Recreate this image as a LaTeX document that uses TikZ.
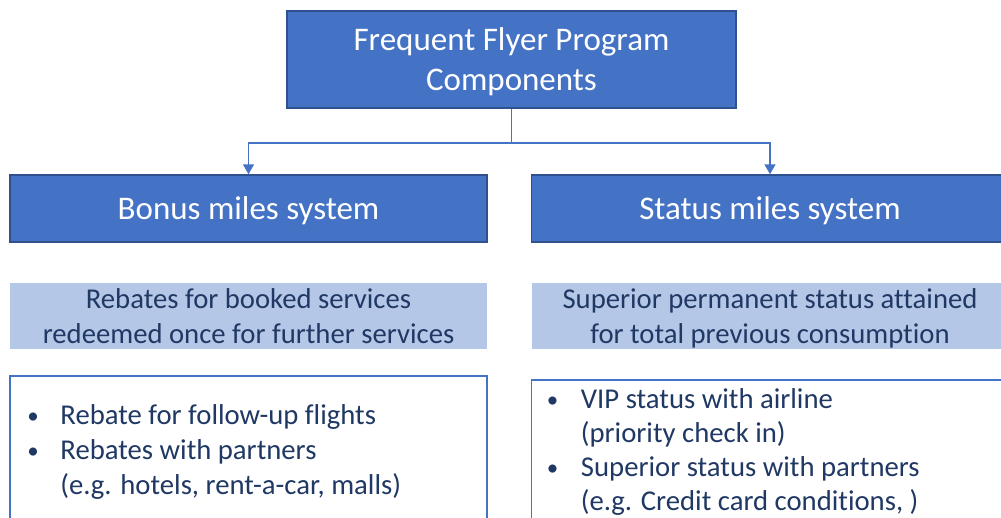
\documentclass[tikz,border=0pt]{standalone}
\usepackage{fontspec}
\setmainfont[Ligatures=NoCommon]{Carlito}
\usetikzlibrary{positioning,arrows.meta}

\definecolor{ffblue}{HTML}{4472C4}
\definecolor{ffedge}{HTML}{2F528F}
\definecolor{fflight}{HTML}{B4C7E7}
\definecolor{fftext}{HTML}{203864}

\tikzset{
  mainbox/.style={draw=ffedge, line width=1.5pt, fill=ffblue, text=white, align=center,
    minimum width=449pt, minimum height=97pt, text depth=0pt,
    font=\fontsize{33}{40}\selectfont},
  headbox/.style={mainbox, minimum width=477pt, minimum height=67pt},
  descbox/.style={fill=fflight, text=fftext, align=center, minimum width=477pt,
    minimum height=66pt, text depth=-3pt, font=\fontsize{28.7}{35}\selectfont},
  listbox/.style={draw=ffblue, line width=1.5pt, fill=white, minimum width=477pt,
    minimum height=200pt, anchor=north},
  itemtext/.style={text=fftext, align=left, anchor=north west, inner sep=0pt},
  link/.style={draw=ffblue, line width=1.5pt, -{Triangle[length=10pt,width=11pt]}}
}

% bullet column for the lists
\newcommand{\bul}[1]{\makebox[#1][l]{\raisebox{1pt}{\fontsize{23}{23}\selectfont\textbullet}}}

\begin{document}
\begin{tikzpicture}[x=1pt, y=-1pt]
\clip (0,0) rectangle (1001,517);

\node (ffp) [mainbox] at (511.5,59.5) {Frequent Flyer Program\\Components};
\node (bonus) [headbox] at (248.5,208.5) {Bonus miles system};
\node (status) [headbox] at (770,208.5) {Status miles system};

\draw[link] (ffp.south) -- ++(0,34) -| (bonus.north);
\draw[link] (ffp.south) -- ++(0,34) -| (status.north);

\node (bonusdesc) [descbox, below=40pt of bonus] {Rebates for booked services\\redeemed once for further services};
\node (statusdesc) [descbox, below=40pt of status] {Superior permanent status attained\\for total previous consumption};

\node (bonuslist) [listbox, below=26pt of bonusdesc.south, anchor=north] {};
\node (statuslist) [listbox, below=30pt of statusdesc.south, anchor=north] {};

\node (bonusitems) [itemtext, font=\fontsize{28.7}{35}\selectfont]
  at ([shift={(18pt,-29pt)}]bonuslist.north west)
  {\bul{33pt}Rebate for follow-up flights\\
   \bul{33pt}Rebates with partners\\
   \hspace*{33pt}(e.g. hotels, rent-a-car, malls)};
\node (statusitems) [itemtext, font=\fontsize{28.7}{34}\selectfont]
  at ([shift={(16pt,-9pt)}]statuslist.north west)
  {\bul{34pt}VIP status with airline\\
   \hspace*{34pt}(priority check in)\\
   \bul{34pt}Superior status with partners\\
   \hspace*{34pt}(e.g. Credit card conditions, )};
\end{tikzpicture}
\end{document}
